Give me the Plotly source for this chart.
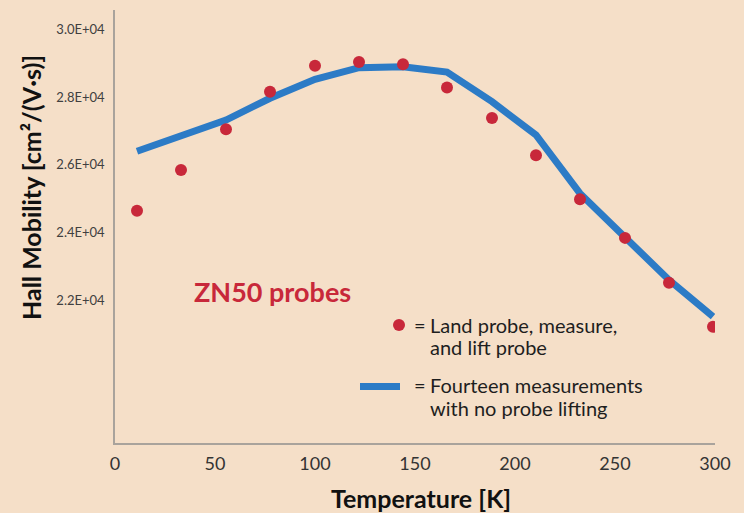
import plotly.graph_objects as go

# ---- data ----
temperature_k = [11, 33, 55.5, 77.5, 100, 122, 144, 166, 188.5, 210.5, 232.5, 255, 277, 299]
mobility_land_lift = [24650, 25850, 27050, 28150, 28920, 29030, 28960, 28280,
                      27380, 26280, 24990, 23850, 22530, 21230]
mobility_no_lift = [26400, 26830, 27320, 27960, 28520, 28860, 28890, 28730,
                    27860, 26880, 25160, 23870, 22610, 21530]
x_tick_vals = [0, 50, 100, 150, 200, 250, 300]
y_tick_vals = [22000, 24000, 26000, 28000, 30000]
y_tick_text = ["2.2E+04", "2.4E+04", "2.6E+04", "2.8E+04", "3.0E+04"]

# ---- style ----
BG = "#F5DFC8"
RED = "#C8283A"
BLUE = "#2C7BC6"
AXIS = "#A9A39C"
FONT = "Lato"
TXT = "#1E1E1E"

W, H = 744, 513
ML, MR, MT, MB = 115, 29, 10, 70
PW, PH = W - ML - MR, H - MT - MB


def px_x(p):
    return (p - ML) / PW


def px_y(p):
    return (H - MB - p) / PH


fig = go.Figure()

fig.add_trace(go.Scatter(
    x=temperature_k, y=mobility_no_lift, mode="lines",
    line=dict(color=BLUE, width=7),
    name="Fourteen measurements with no probe lifting",
    showlegend=False,
))
fig.add_trace(go.Scatter(
    x=temperature_k, y=mobility_land_lift, mode="markers",
    marker=dict(color=RED, size=12, line=dict(width=0)),
    name="Land probe, measure, and lift probe",
    showlegend=False,
))

annotations = [
    dict(text="<b>ZN50 probes</b>", x=px_x(272), y=px_y(291),
         font=dict(family=FONT, size=27, color=RED)),
    dict(text="<b>Hall Mobility [cm²/(V·s)]</b>", x=px_x(31), y=px_y(187),
         textangle=-90, font=dict(family=FONT, size=25, color="#111111")),
    dict(text="<b>Temperature [K]</b>", x=px_x(421), y=px_y(498),
         font=dict(family=FONT, size=25, color="#111111")),
    dict(text="=", x=px_x(420), y=px_y(325),
         font=dict(family=FONT, size=20, color=TXT)),
    dict(text="=", x=px_x(420), y=px_y(385),
         font=dict(family=FONT, size=20, color=TXT)),
    dict(text="Land probe, measure,", x=px_x(428), y=px_y(325), xanchor="left",
         font=dict(family=FONT, size=20, color=TXT)),
    dict(text="and lift probe", x=px_x(428), y=px_y(347), xanchor="left",
         font=dict(family=FONT, size=20, color=TXT)),
    dict(text="Fourteen measurements", x=px_x(428), y=px_y(385), xanchor="left",
         font=dict(family=FONT, size=20, color=TXT)),
    dict(text="with no probe lifting", x=px_x(428), y=px_y(408), xanchor="left",
         font=dict(family=FONT, size=20, color=TXT)),
]
for a in annotations:
    a.setdefault("xanchor", "center")
    a.setdefault("yanchor", "middle")
    a.update(xref="paper", yref="paper", showarrow=False)

shapes = [
    dict(type="circle", xref="paper", yref="paper",
         x0=px_x(393), x1=px_x(405), y0=px_y(331), y1=px_y(319),
         fillcolor=RED, line=dict(width=0)),
    dict(type="line", xref="paper", yref="paper",
         x0=px_x(360), x1=px_x(400), y0=px_y(386.5), y1=px_y(386.5),
         line=dict(color=BLUE, width=7)),
]

fig.update_layout(
    width=W, height=H,
    margin=dict(l=ML, r=MR, t=MT, b=MB),
    paper_bgcolor=BG, plot_bgcolor=BG,
    annotations=annotations, shapes=shapes,
    showlegend=False,
    xaxis=dict(
        range=[0, 300], tickvals=x_tick_vals,
        showline=True, linecolor=AXIS, linewidth=1.5,
        showgrid=False, zeroline=False, ticks="",
        ticklabelstandoff=4,
        tickfont=dict(family=FONT, size=18, color="#333333"),
    ),
    yaxis=dict(
        range=[17810, 30560], tickvals=y_tick_vals, ticktext=y_tick_text,
        showline=True, linecolor=AXIS, linewidth=1.5,
        showgrid=False, zeroline=False, ticks="",
        ticklabelstandoff=6,
        tickfont=dict(family=FONT, size=13, color="#404040"),
    ),
)

fig.write_html(
    "out.html",
    config={"displayModeBar": False},
    post_script=(
        "document.body.style.margin='0';"
        "document.body.style.padding='0';"
        "document.body.style.background='" + BG + "';"
        "document.documentElement.style.background='" + BG + "';"
    ),
)
